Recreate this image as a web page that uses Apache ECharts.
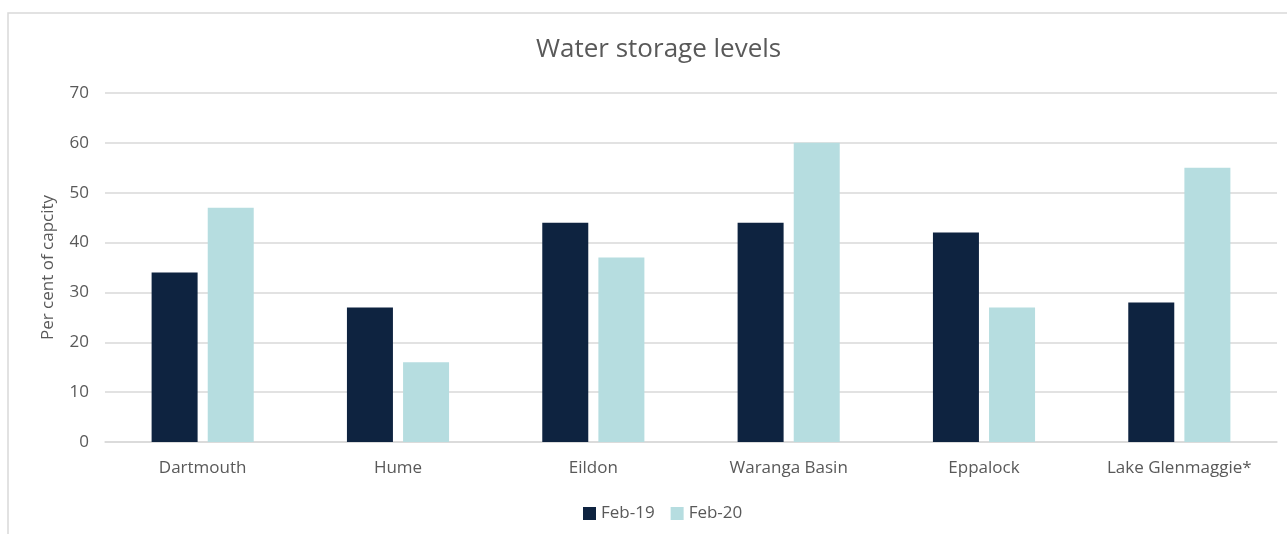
<!DOCTYPE html>
<html>
<head>
<meta charset="utf-8">
<script src="https://cdn.jsdelivr.net/npm/echarts@6/dist/echarts.min.js"></script>
<style>
  html, body { margin: 0; padding: 0; background: #fff; }
  #chart { width: 1287px; height: 534px; }
</style>
</head>
<body>
<div id="chart"></div>
<script>
// data
var categories = ["Dartmouth", "Hume", "Eildon", "Waranga Basin", "Eppalock", "Lake Glenmaggie*"];
var feb19 = [34, 27, 44, 44, 42, 28];
var feb20 = [47, 16, 37, 60, 27, 55];
var seriesNames = ["Feb-19", "Feb-20"];

var textColor = "#595959";
var font = "'Open Sans', 'Noto Sans', sans-serif";

var myChart = echarts.init(document.getElementById("chart"));
var option = {
  animation: false,
  textStyle: { fontFamily: font },
  graphic: [{
    type: "rect",
    shape: { x: 8, y: 13, width: 1300, height: 560 },
    style: { fill: "none", stroke: "#d9d9d9", lineWidth: 1.5 },
    silent: true
  }],
  title: {
    text: "Water storage levels",
    left: 531,
    top: 32,
    textStyle: { color: textColor, fontSize: 26, fontWeight: "normal", fontFamily: font }
  },
  legend: {
    data: seriesNames,
    top: 500,
    left: 578,
    itemWidth: 13,
    itemHeight: 13,
    itemGap: 16,
    icon: "rect",
    textStyle: { color: textColor, fontSize: 17, fontFamily: font }
  },
  grid: { left: 105, right: 10, top: 93, bottom: 92 },
  xAxis: {
    type: "category",
    data: categories,
    axisLine: { lineStyle: { color: "#d9d9d9", width: 1.5 } },
    axisTick: { show: false },
    axisLabel: { color: textColor, fontSize: 17, margin: 18, fontFamily: font }
  },
  yAxis: {
    type: "value",
    min: 0,
    max: 70,
    interval: 10,
    name: "Per cent of capcity",
    nameLocation: "middle",
    nameGap: 48,
    nameTextStyle: { color: textColor, fontSize: 17, fontFamily: font },
    axisLine: { show: false },
    axisTick: { show: false },
    axisLabel: { color: textColor, fontSize: 17, margin: 16, fontFamily: font },
    splitLine: { lineStyle: { color: "#d9d9d9", width: 1.5 } }
  },
  series: [
    { name: seriesNames[0], type: "bar", data: feb19, barWidth: 46, barGap: "22%", itemStyle: { color: "#0e2340" } },
    { name: seriesNames[1], type: "bar", data: feb20, barWidth: 46, barGap: "22%", itemStyle: { color: "#b6dde0" } }
  ]
};
myChart.setOption(option);
</script>
</body>
</html>
